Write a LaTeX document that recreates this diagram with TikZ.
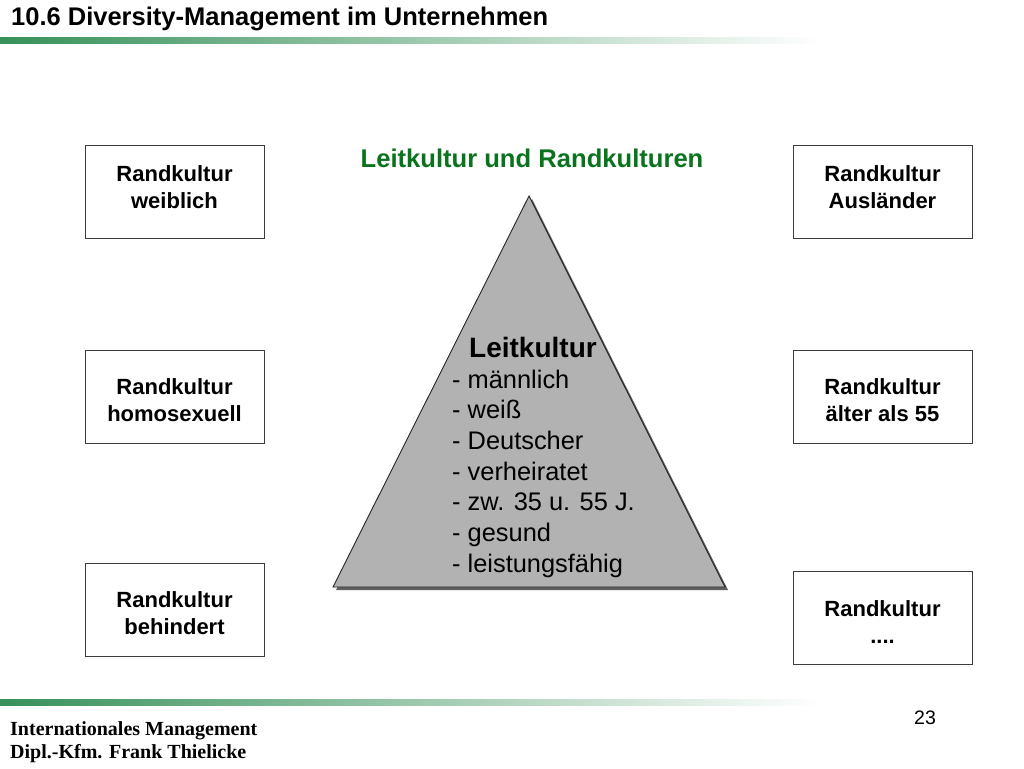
\documentclass[tikz,border=0pt]{standalone}
\usepackage{fontspec}
\setmainfont{Liberation Sans}
\newfontfamily\footfont{Liberation Serif}
\definecolor{barGreen}{RGB}{55,145,90}
\definecolor{barMid}{RGB}{160,200,172}
\definecolor{headGreen}{RGB}{10,115,30}
\definecolor{triGray}{RGB}{178,178,178}
\definecolor{shadowGray}{RGB}{95,95,95}
\definecolor{boxLine}{RGB}{60,60,60}
\begin{document}
\begin{tikzpicture}[x=1pt,y=-1pt,
  rbox/.style={draw=boxLine,line width=0.9pt,minimum width=179pt,minimum height=93pt,inner sep=0pt},
  rtext/.style={align=center,inner sep=0pt,font=\fontsize{22}{27}\selectfont\bfseries},
  litem/.style={anchor=base west,inner sep=0pt,font=\fontsize{25.4}{30}\selectfont},
  foot/.style={anchor=base west,inner sep=0pt,font=\footfont\fontsize{20}{24}\selectfont\bfseries}]
\useasboundingbox (0,0) rectangle (1024,768);
\fill[white] (0,0) rectangle (1024,768);
% header
\node[anchor=base west,inner sep=0pt,font=\fontsize{25.5}{30}\selectfont\bfseries] (title) at (11,26) {10.6 Diversity-Management im Unternehmen};
\shade[left color=barGreen,middle color=barMid,right color=white] (0,38) rectangle (820,44);
% heading
\node[anchor=base,inner sep=0pt,text=headGreen,font=\fontsize{25.6}{30}\selectfont\bfseries] (head) at (532,167) {Leitkultur und Randkulturen};
% boxes
\node[rbox] (b1) at (174.5,191.5) {};
\node[rbox] (b2) at (174.5,396.5) {};
\node[rbox] (b3) at (174.5,609.5) {};
\node[rbox] (b4) at (882.5,191.5) {};
\node[rbox] (b5) at (882.5,396.5) {};
\node[rbox] (b6) at (882.5,618) {};
\node[rtext] (t1) at (174.5,187) {Randkultur\\weiblich};
\node[rtext] (t2) at (174.5,400) {Randkultur\\homosexuell};
\node[rtext] (t3) at (174.5,613) {Randkultur\\behindert};
\node[rtext] (t4) at (882.5,187) {Randkultur\\Ausländer};
\node[rtext] (t5) at (882.5,400) {Randkultur\\älter als 55};
\node[rtext] (t6) at (882.5,622) {Randkultur\\....};
% triangle
\coordinate (apex) at (529,196);
\coordinate (bl) at (333,587);
\coordinate (br) at (725,587);
\fill[shadowGray] ([shift={(3,3)}]apex) -- ([shift={(3,3)}]bl) -- ([shift={(3,3)}]br) -- cycle;
\draw[fill=triGray,draw=black!85,line width=0.9pt] (apex) -- (bl) -- (br) -- cycle;
\node[anchor=base west,inner sep=0pt,font=\fontsize{28}{32}\selectfont\bfseries] (lk) at (469,357) {Leitkultur};
\node[litem] (l1) at (452,388) {- männlich};
\node[litem] (l2) at (452,418.7) {- weiß};
\node[litem] (l3) at (452,449.3) {- Deutscher};
\node[litem] (l4) at (452,480) {- verheiratet};
\node[litem] (l5) at (452,510.7) {- zw. 35 u. 55 J.};
\node[litem] (l6) at (452,541.3) {- gesund};
\node[litem] (l7) at (452,572) {- leistungsfähig};
% footer
\shade[left color=barGreen,middle color=barMid,right color=white] (0,699) rectangle (820,705);
\node[foot] (f1) at (10,735) {Internationales Management};
\node[foot] (f2) at (10,758) {Dipl.-Kfm. Frank Thielicke};
\node[anchor=base west,inner sep=0pt,font=\fontsize{19.5}{23}\selectfont] (pg) at (914,724) {23};
\end{tikzpicture}
\end{document}
